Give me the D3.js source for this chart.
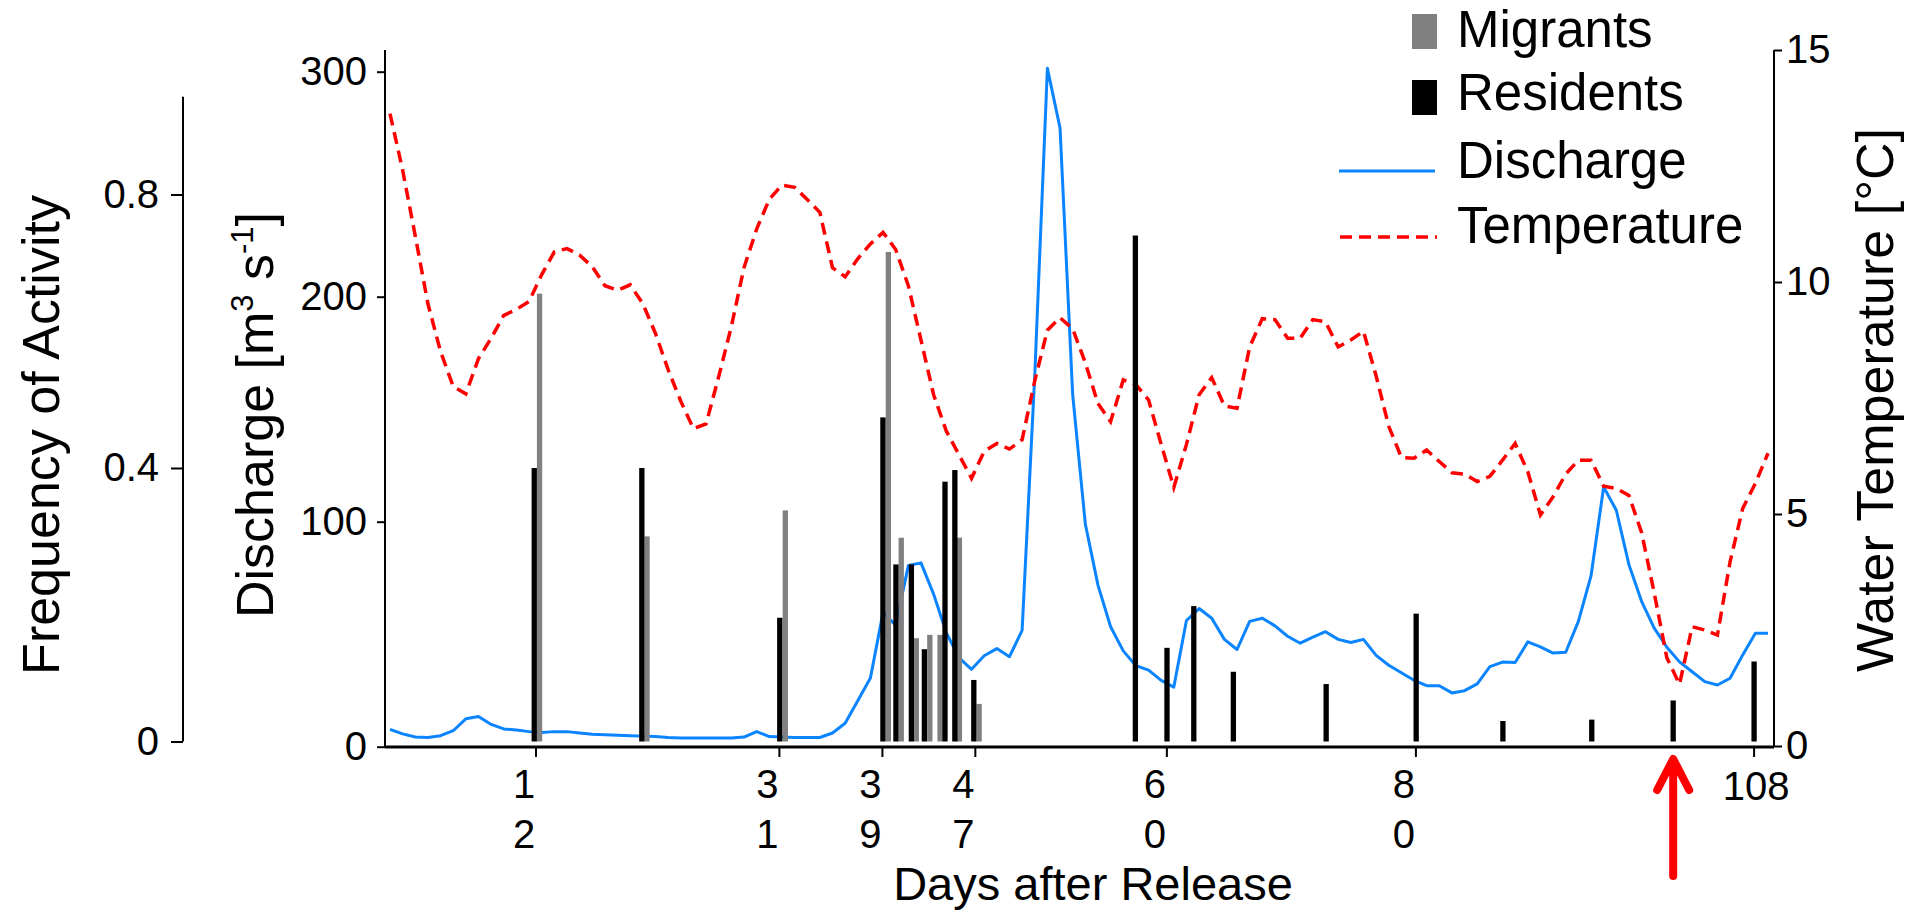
<!DOCTYPE html>
<html>
<head>
<meta charset="utf-8">
<script src="https://cdn.jsdelivr.net/npm/d3@7"></script>
<style>
  body { margin: 0; background: #fff; }
  svg { display: block; font-family: "Liberation Sans", Arial, sans-serif; }
</style>
</head>
<body>
<svg width="1915" height="913"></svg>
<script>
// daily samples, one value per step on the x axis
const discharge = [
  7.7, 5.7, 4.3, 4.1, 4.9, 7.1, 12.4, 13.4, 9.9, 7.9,
  7.4, 6.7, 6.3, 6.7, 6.7, 6.1, 5.5, 5.3, 5.1, 4.9,
  4.7, 4.5, 4.1, 3.9, 3.9, 3.9, 3.9, 3.9, 4.3, 6.7,
  4.5, 4.3, 4.1, 4.1, 4.1, 6.1, 10.4, 20.4, 30.5, 59.7,
  54, 80.5, 81.7, 67.8, 50.7, 39.6, 34.4, 40.4, 43.6, 40.0,
  51.7, 165, 301.5, 275, 156.5, 99, 71.8, 53.3, 42.6, 36,
  34, 29.5, 26.5, 56.1, 61.4, 57.1, 47.7, 43.2, 55.7, 57.1,
  53.7, 49.1, 46.0, 48.7, 51.1, 47.7, 46.3, 47.7, 40.6, 36.2,
  32.9, 29.5, 27.1, 27.1, 23.9, 24.9, 27.9, 35.6, 37.6, 37.4,
  46.6, 44.4, 41.6, 42, 55.7, 75.9, 115.4, 105.1, 80.9, 64.6,
  52.7, 44.2, 37.7, 33.3, 28.9, 27.4, 30.4, 40.8, 50.4, 50.4
];

const temperature = [
  13.63, 12.41, 10.99, 9.53, 8.50, 7.75, 7.59, 8.35, 8.79, 9.28,
  9.41, 9.58, 10.16, 10.65, 10.72, 10.58, 10.33, 9.92, 9.82, 9.94,
  9.53, 8.89, 8.11, 7.43, 6.84, 6.94, 7.96, 9.04, 10.31, 11.14,
  11.78, 12.09, 12.04, 11.78, 11.50, 10.31, 10.11, 10.50, 10.82, 11.07,
  10.70, 9.92, 8.75, 7.57, 6.79, 6.28, 5.77, 6.35, 6.52, 6.40,
  6.60, 7.87, 8.96, 9.23, 8.99, 8.26, 7.38, 6.99, 7.89, 7.79,
  7.46, 6.50, 5.57, 6.50, 7.57, 7.94, 7.33, 7.28, 8.60, 9.21,
  9.19, 8.79, 8.79, 9.19, 9.14, 8.60, 8.75, 8.94, 7.98, 6.89,
  6.22, 6.20, 6.38, 6.13, 5.89, 5.86, 5.70, 5.81, 6.16, 6.52,
  5.91, 4.98, 5.37, 5.86, 6.16, 6.16, 5.60, 5.55, 5.40, 4.60,
  3.30, 1.90, 1.33, 2.57, 2.50, 2.39, 3.97, 5.12, 5.66, 6.31
];

const residentPos = [11.41, 19.92, 30.83, 38.99, 40.02, 41.24, 42.27, 43.9, 44.68, 46.18,
  58.96, 61.46, 63.58, 66.71, 74.05, 81.17, 88.03, 95.06, 101.5, 107.9];
const residentFreq = [0.40, 0.40, 0.181, 0.474, 0.259, 0.259, 0.135, 0.38, 0.397, 0.09,
  0.74, 0.137, 0.198, 0.102, 0.084, 0.187, 0.030, 0.032, 0.060, 0.117];

const migrantPos = [11.83, 20.33, 31.27, 39.42, 40.44, 41.63, 42.7, 43.51, 45.04, 46.6];
const migrantFreq = [0.655, 0.30, 0.338, 0.716, 0.298, 0.151, 0.156, 0.156, 0.298, 0.055];

const dayTickPos = [11.55, 30.8, 38.95, 46.3, 61.45, 81.15, 107.9];
const dayTickLabels = ["12", "31", "39", "47", "60", "80", "108"];
const arrowPos = 101.5;

const freqTicks = [0, 0.4, 0.8];
const dischargeTicks = [0, 100, 200, 300];
const tempTicks = [0, 5, 10, 15];

const blue = "#0a84ff", red = "#ff0000", grey = "#808080";

const svg = d3.select("svg");

const x = d3.scaleLinear().domain([0, discharge.length - 1]).range([390, 1768]);
const yFreq = d3.scaleLinear().domain([0, 0.8]).range([741.5, 194.5]);
const yDis = d3.scaleLinear().domain([0, 300]).range([746.7, 71.7]);
const yTemp = d3.scaleLinear().domain([0, 15]).range([746, 50]);

const styleAxis = g => {
  g.attr("font-family", null).attr("font-size", 40);
  g.select(".domain").remove();
  g.selectAll(".tick line").attr("stroke", "#000").attr("stroke-width", 2);
  g.selectAll(".tick text").attr("fill", "#000");
};

// left-most axis: frequency of activity
svg.append("g")
  .attr("transform", "translate(183,0)")
  .call(d3.axisLeft(yFreq).tickValues(freqTicks).tickSize(12).tickPadding(12)
    .tickFormat(d => d === 0 ? "0" : d3.format(".1f")(d)))
  .call(styleAxis);

svg.append("g")
  .attr("transform", "translate(385,0)")
  .call(d3.axisLeft(yDis).tickValues(dischargeTicks).tickSize(8).tickPadding(10))
  .call(styleAxis);

svg.append("g")
  .attr("transform", "translate(1774,0)")
  .call(d3.axisRight(yTemp).tickValues(tempTicks).tickSize(8).tickPadding(4))
  .call(styleAxis);

const axisLines = [
  [183, 96.7, 183, yFreq(0)],
  [385, 50, 385, 747],
  [1774, 50, 1774, 747],
  [385, 747, 1774, 747]
];
svg.append("g").selectAll("line")
  .data(axisLines)
  .join("line")
    .attr("x1", d => d[0]).attr("y1", d => d[1])
    .attr("x2", d => d[2]).attr("y2", d => d[3])
    .attr("stroke", "#000")
    .attr("stroke-width", (d, i) => i === 3 ? 3 : 2);

// day ticks, two-digit labels are stacked
const dayTick = svg.append("g").selectAll("g")
  .data(dayTickPos)
  .join("g")
    .attr("transform", d => `translate(${x(d)},0)`);

dayTick.append("line")
  .attr("y1", 747).attr("y2", 757)
  .attr("stroke", "#000").attr("stroke-width", 2);

dayTick.append("text")
  .attr("text-anchor", "middle")
  .attr("font-size", 40)
  .each(function(d, i) {
    const lab = dayTickLabels[i];
    const t = d3.select(this);
    if (lab.length === 2) {
      t.append("tspan").attr("x", -12).attr("y", 798).text(lab[0]);
      t.append("tspan").attr("x", -12).attr("y", 848).text(lab[1]);
    } else {
      t.append("tspan").attr("x", 2).attr("y", 800).text(lab);
    }
  });

// lines
const disLine = d3.line().x((d, i) => x(i)).y(d => yDis(d));
const tempLine = d3.line().x((d, i) => x(i)).y(d => yTemp(d));

svg.append("path")
  .datum(discharge)
  .attr("d", disLine)
  .attr("fill", "none")
  .attr("stroke", blue)
  .attr("stroke-width", 3)
  .attr("stroke-linejoin", "round");

svg.append("path")
  .datum(temperature)
  .attr("d", tempLine)
  .attr("fill", "none")
  .attr("stroke", red)
  .attr("stroke-width", 3.5)
  .attr("stroke-dasharray", "12,7");

// bars
const barW = 5.3;
svg.append("g").selectAll("rect")
  .data(migrantPos)
  .join("rect")
    .attr("x", d => x(d) - barW / 2)
    .attr("width", barW)
    .attr("y", (d, i) => yFreq(migrantFreq[i]))
    .attr("height", (d, i) => yFreq(0) - yFreq(migrantFreq[i]))
    .attr("fill", grey);

svg.append("g").selectAll("rect")
  .data(residentPos)
  .join("rect")
    .attr("x", d => x(d) - barW / 2)
    .attr("width", barW)
    .attr("y", (d, i) => yFreq(residentFreq[i]))
    .attr("height", (d, i) => yFreq(0) - yFreq(residentFreq[i]))
    .attr("fill", "#000");

// red arrow under the axis
const ax = x(arrowPos);
svg.append("path")
  .attr("d", `M${ax},876V762M${ax - 16},790L${ax},759L${ax + 16},790`)
  .attr("fill", "none")
  .attr("stroke", red)
  .attr("stroke-width", 8)
  .attr("stroke-linecap", "round")
  .attr("stroke-linejoin", "round");

// axis titles
svg.append("text")
  .attr("transform", "translate(59,435) rotate(-90)")
  .attr("text-anchor", "middle")
  .attr("font-size", 52)
  .text("Frequency of Activity");

const disTitle = svg.append("text")
  .attr("transform", "translate(273,415) rotate(-90)")
  .attr("text-anchor", "middle")
  .attr("font-size", 52);
disTitle.append("tspan").text("Discharge [m");
disTitle.append("tspan").attr("font-size", 31).attr("dy", -20).text("3");
disTitle.append("tspan").attr("dy", 20).text(" s");
disTitle.append("tspan").attr("font-size", 31).attr("dy", -20).text("-1");
disTitle.append("tspan").attr("dy", 20).text("]");

svg.append("text")
  .attr("transform", "translate(1893,400) rotate(-90)")
  .attr("text-anchor", "middle")
  .attr("font-size", 52)
  .text("Water Temperature [°C]");

svg.append("text")
  .attr("x", 1093).attr("y", 900)
  .attr("text-anchor", "middle")
  .attr("font-size", 47)
  .text("Days after Release");

// legend
const legend = svg.append("g").attr("font-size", 51);
legend.append("rect").attr("x", 1412).attr("y", 14).attr("width", 25).attr("height", 35).attr("fill", grey);
legend.append("rect").attr("x", 1412).attr("y", 80).attr("width", 25).attr("height", 35).attr("fill", "#000");
legend.append("line").attr("x1", 1339).attr("x2", 1435).attr("y1", 171).attr("y2", 171)
  .attr("stroke", blue).attr("stroke-width", 3);
legend.append("line").attr("x1", 1340).attr("x2", 1437).attr("y1", 237).attr("y2", 237)
  .attr("stroke", red).attr("stroke-width", 3.5).attr("stroke-dasharray", "12,7");
const legendNames = ["Migrants", "Residents", "Discharge", "Temperature"];
const legendY = [47, 110, 178, 243];
legend.selectAll("text")
  .data(legendNames)
  .join("text")
    .attr("x", 1457)
    .attr("y", (d, i) => legendY[i])
    .text(d => d);
</script>
</body>
</html>
